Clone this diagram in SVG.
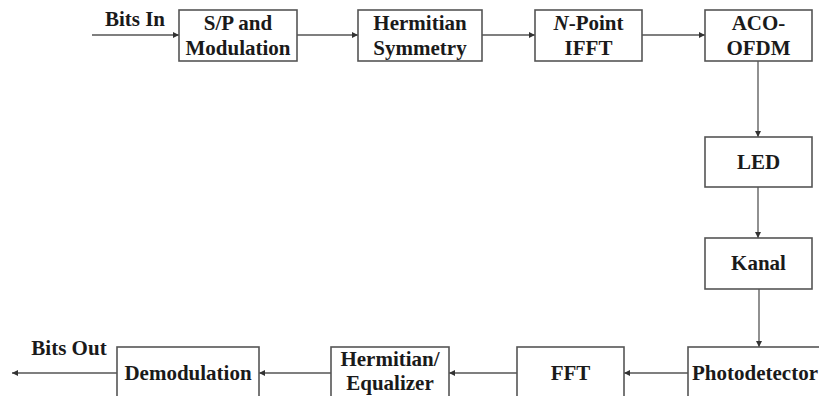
<svg xmlns="http://www.w3.org/2000/svg" width="819" height="396" viewBox="0 0 819 396">
<defs>
<marker id="ah" viewBox="0 0 10 10" refX="10" refY="5" markerWidth="6" markerHeight="6" markerUnits="userSpaceOnUse" orient="auto">
<path d="M0,0 L10,5 L0,10 z" fill="#333"/>
</marker>
</defs>
<rect width="819" height="396" fill="#fff"/>
<g id="connectors" stroke="#555" stroke-width="1.3" fill="none" marker-end="url(#ah)">
<line x1="92" y1="35" x2="179" y2="35"/>
<line x1="297" y1="35" x2="358" y2="35"/>
<line x1="482" y1="35" x2="535" y2="35"/>
<line x1="642" y1="35" x2="705" y2="35"/>
<line x1="758" y1="61" x2="758" y2="137"/>
<line x1="758" y1="187" x2="758" y2="238"/>
<line x1="759" y1="289" x2="759" y2="347"/>
<line x1="688" y1="373" x2="624" y2="373"/>
<line x1="517" y1="373" x2="449" y2="373"/>
<line x1="331" y1="373" x2="259" y2="373"/>
<line x1="117" y1="373" x2="12" y2="373"/>
</g>
<text x="135" y="26" font-family="Liberation Serif" font-weight="bold" font-size="21" fill="#1a1a1a" text-anchor="middle">Bits In</text>
<text x="69" y="355" font-family="Liberation Serif" font-weight="bold" font-size="21" fill="#1a1a1a" text-anchor="middle">Bits Out</text>
<g id="sp">
<rect x="179" y="10" width="118" height="51" fill="#fff" stroke="#555" stroke-width="1.6"/>
<text x="238" y="30" font-family="Liberation Serif" font-weight="bold" font-size="21" fill="#1a1a1a" text-anchor="middle">S/P and</text>
<text x="238" y="55" font-family="Liberation Serif" font-weight="bold" font-size="21" fill="#1a1a1a" text-anchor="middle">Modulation</text>
</g>
<g id="hermitian">
<rect x="358" y="10" width="124" height="51" fill="#fff" stroke="#555" stroke-width="1.6"/>
<text x="420" y="30" font-family="Liberation Serif" font-weight="bold" font-size="21" fill="#1a1a1a" text-anchor="middle">Hermitian</text>
<text x="420" y="55" font-family="Liberation Serif" font-weight="bold" font-size="21" fill="#1a1a1a" text-anchor="middle">Symmetry</text>
</g>
<g id="ifft">
<rect x="535" y="10" width="107" height="51" fill="#fff" stroke="#555" stroke-width="1.6"/>
<text x="588.5" y="30" font-family="Liberation Serif" font-weight="bold" font-size="21" fill="#1a1a1a" text-anchor="middle"><tspan font-style="italic">N</tspan>-Point</text>
<text x="588.5" y="55" font-family="Liberation Serif" font-weight="bold" font-size="21" fill="#1a1a1a" text-anchor="middle">IFFT</text>
</g>
<g id="aco">
<rect x="705" y="10" width="107" height="51" fill="#fff" stroke="#555" stroke-width="1.6"/>
<text x="758.5" y="30" font-family="Liberation Serif" font-weight="bold" font-size="21" fill="#1a1a1a" text-anchor="middle">ACO-</text>
<text x="758.5" y="55" font-family="Liberation Serif" font-weight="bold" font-size="21" fill="#1a1a1a" text-anchor="middle">OFDM</text>
</g>
<g id="led">
<rect x="705" y="137" width="107" height="50" fill="#fff" stroke="#555" stroke-width="1.6"/>
<text x="758.5" y="169" font-family="Liberation Serif" font-weight="bold" font-size="21" fill="#1a1a1a" text-anchor="middle">LED</text>
</g>
<g id="kanal">
<rect x="705" y="238" width="107" height="51" fill="#fff" stroke="#555" stroke-width="1.6"/>
<text x="758.5" y="270" font-family="Liberation Serif" font-weight="bold" font-size="21" fill="#1a1a1a" text-anchor="middle">Kanal</text>
</g>
<g id="photodetector">
<rect x="688" y="347" width="150" height="60" fill="#fff" stroke="#555" stroke-width="1.6"/>
<text x="692" y="380" font-family="Liberation Serif" font-weight="bold" font-size="21" fill="#1a1a1a">Photodetector</text>
</g>
<g id="fft">
<rect x="517" y="347" width="107" height="60" fill="#fff" stroke="#555" stroke-width="1.6"/>
<text x="570.5" y="380" font-family="Liberation Serif" font-weight="bold" font-size="21" fill="#1a1a1a" text-anchor="middle">FFT</text>
</g>
<g id="equalizer">
<rect x="331" y="347" width="118" height="60" fill="#fff" stroke="#555" stroke-width="1.6"/>
<text x="390" y="366" font-family="Liberation Serif" font-weight="bold" font-size="21" fill="#1a1a1a" text-anchor="middle">Hermitian/</text>
<text x="390" y="390" font-family="Liberation Serif" font-weight="bold" font-size="21" fill="#1a1a1a" text-anchor="middle">Equalizer</text>
</g>
<g id="demod">
<rect x="117" y="347" width="142" height="60" fill="#fff" stroke="#555" stroke-width="1.6"/>
<text x="188" y="380" font-family="Liberation Serif" font-weight="bold" font-size="21" fill="#1a1a1a" text-anchor="middle">Demodulation</text>
</g>
</svg>
